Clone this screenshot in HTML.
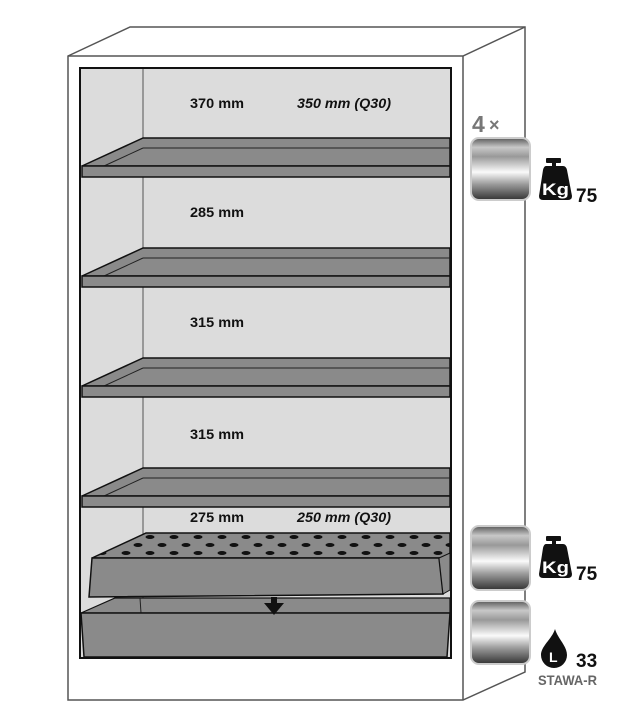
<!DOCTYPE html>
<html><head><style>
html,body{margin:0;padding:0;background:#fff;width:629px;height:718px;overflow:hidden}
svg{display:block}
.t{font-family:"Liberation Sans",sans-serif;font-weight:bold;font-size:14px;fill:#111}
</style></head><body>
<svg width="629" height="718" viewBox="0 0 629 718" xmlns="http://www.w3.org/2000/svg">
<defs>
<linearGradient id="cyl" x1="0" y1="0" x2="0" y2="1">
<stop offset="0" stop-color="#5a5a5a"/><stop offset="0.15" stop-color="#c8c8c8"/><stop offset="0.3" stop-color="#999"/>
<stop offset="0.55" stop-color="#fafafa"/><stop offset="0.75" stop-color="#999"/><stop offset="1" stop-color="#333"/>
</linearGradient>
<pattern id="holes" x="0" y="533" width="24" height="16" patternUnits="userSpaceOnUse">
<ellipse cx="6" cy="4" rx="4.5" ry="2" fill="#111"/>
<ellipse cx="18" cy="12" rx="4.5" ry="2" fill="#111"/>
</pattern>
</defs>
<polygon points="68,56 130,27 525,27 525,672 463,700 68,700" fill="#fff" stroke="#555" stroke-width="1.5"/>
<polyline points="68,56 463,56 525,27" fill="none" stroke="#555" stroke-width="1.5"/>
<line x1="463" y1="56" x2="463" y2="700" stroke="#555" stroke-width="1.5"/>
<rect x="80" y="68" width="371" height="590" fill="#dcdcdc" stroke="#111" stroke-width="2"/>
<line x1="143" y1="69" x2="143" y2="598" stroke="#555" stroke-width="1"/>
<g id="sh">
<polygon points="82,166 143,138 450,138 450,166" fill="#8a8a8a" stroke="#111" stroke-width="1.5"/>
<line x1="143" y1="148" x2="450" y2="148" stroke="#222"/>
<line x1="104" y1="166" x2="143" y2="148" stroke="#222"/>
<rect x="82" y="166" width="368" height="11" fill="#8a8a8a" stroke="#111" stroke-width="1.5"/>
</g>
<use href="#sh" y="110"/>
<use href="#sh" y="220"/>
<use href="#sh" y="330"/>
<polygon points="92,558 146,533 450,533 450,558" fill="#8a8a8a" stroke="#111" stroke-width="1.5"/>
<polygon points="92,558 146,533 450,533 450,558" fill="url(#holes)"/>
<polygon points="92,558 439,558 443,594 89,597" fill="#8a8a8a" stroke="#111" stroke-width="1.5"/>
<polygon points="439,558 450,553 450,590 443,594" fill="#8a8a8a" stroke="#111" stroke-width="1"/>
<polygon points="81,613 115,598 450,598 450,613" fill="#8a8a8a" stroke="#111" stroke-width="1.2"/>
<line x1="140" y1="598" x2="141" y2="613" stroke="#222"/>
<polygon points="81,613 450,613 447,657 84,657" fill="#8a8a8a" stroke="#111" stroke-width="1.5"/>
<rect x="271" y="597" width="6" height="6" fill="#111"/>
<polygon points="264,603 284,603 274,615" fill="#111"/>
<text class="t" x="190" y="108" textLength="54" lengthAdjust="spacingAndGlyphs">370 mm</text>
<text class="t" x="297" y="108" font-style="italic" textLength="94" lengthAdjust="spacingAndGlyphs">350 mm (Q30)</text>
<text class="t" x="190" y="217" textLength="54" lengthAdjust="spacingAndGlyphs">285 mm</text>
<text class="t" x="190" y="327" textLength="54" lengthAdjust="spacingAndGlyphs">315 mm</text>
<text class="t" x="190" y="439" textLength="54" lengthAdjust="spacingAndGlyphs">315 mm</text>
<text class="t" x="190" y="522" textLength="54" lengthAdjust="spacingAndGlyphs">275 mm</text>
<text class="t" x="297" y="522" font-style="italic" textLength="94" lengthAdjust="spacingAndGlyphs">250 mm (Q30)</text>
<text x="472" y="132" font-family="Liberation Sans,sans-serif" font-weight="bold" font-size="23" fill="#777">4</text>
<text x="489" y="131" font-family="Liberation Sans,sans-serif" font-weight="bold" font-size="18" fill="#777">×</text>
<rect x="471" y="138" width="59" height="62" rx="8" fill="url(#cyl)" stroke="#ccc" stroke-width="2"/>
<rect x="471" y="526" width="59" height="64" rx="8" fill="url(#cyl)" stroke="#ccc" stroke-width="2"/>
<rect x="471" y="601" width="59" height="63" rx="8" fill="url(#cyl)" stroke="#ccc" stroke-width="2"/>
<g id="kg">
<rect x="546" y="158" width="15" height="5" rx="1" fill="#111"/>
<rect x="552" y="162" width="4" height="4" fill="#111"/>
<path d="M546,166 L563,166 Q566,166 567,170 L572,196 Q572,200 568,200 L543,200 Q539,200 539,196 L543,170 Q544,166 546,166 Z" fill="#111"/>
<text x="542" y="195" font-family="Liberation Sans,sans-serif" font-weight="bold" font-size="17" fill="#fff" textLength="27" lengthAdjust="spacingAndGlyphs">Kg</text>
<text x="576" y="202" font-family="Liberation Sans,sans-serif" font-weight="bold" font-size="19" fill="#111">75</text>
</g>
<use href="#kg" y="378"/>
<path d="M555,629 C552,639 541,646 541,655 A13,13 0 0 0 567,655 C567,646 558,639 555,629 Z" fill="#111"/>
<text x="549" y="662" font-family="Liberation Sans,sans-serif" font-weight="bold" font-size="14" fill="#fff">L</text>
<text x="576" y="667" font-family="Liberation Sans,sans-serif" font-weight="bold" font-size="19" fill="#111">33</text>
<text x="538" y="685" font-family="Liberation Sans,sans-serif" font-weight="bold" font-size="14" fill="#666" textLength="59" lengthAdjust="spacingAndGlyphs">STAWA-R</text>
</svg>
</body></html>
